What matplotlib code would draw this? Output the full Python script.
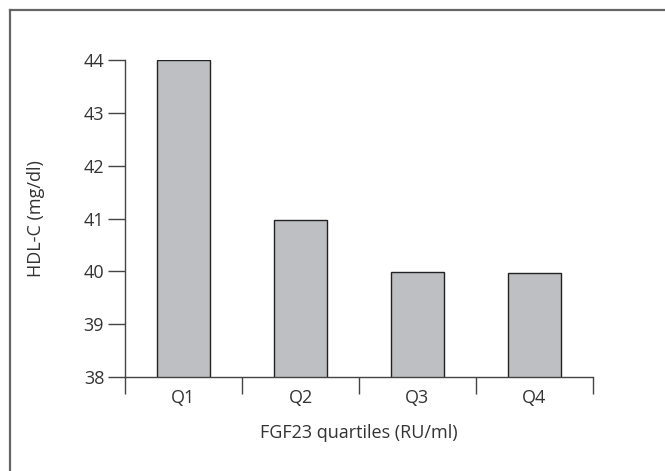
import matplotlib
matplotlib.use("Agg")
import matplotlib.pyplot as plt
from matplotlib.lines import Line2D

categories = ["Q1", "Q2", "Q3", "Q4"]
hdl_values = [44.0, 40.98, 39.98, 39.97]
y_ticks = [38, 39, 40, 41, 42, 43, 44]

plt.rcParams['font.family'] = ['Open Sans', 'DejaVu Sans']
text_color = "#333333"
fs = 13

fig = plt.figure(figsize=(6.65, 4.71), dpi=100)
ax = fig.add_axes([125/665, 1 - 377/471, (593 - 125)/665, (377 - 60)/471])

x = list(range(len(categories)))
ax.bar(x, hdl_values, width=0.445, bottom=0, color="#bebfc3",
       edgecolor="#222222", linewidth=1.0, zorder=2)

ax.set_ylim(38, 44)
ax.set_xlim(-0.5, len(categories) - 0.5)
ax.set_yticks(y_ticks)
ax.set_yticklabels([str(v) for v in y_ticks])

# x ticks at category boundaries, labels at centers
ax.set_xticks([i - 0.5 for i in range(len(categories) + 1)])
ax.set_xticklabels([])
ax.set_xticks(x, minor=True)
ax.set_xticklabels(categories, minor=True)
ax.tick_params(axis="x", which="minor", length=0, pad=9, labelsize=fs, labelcolor=text_color)
ax.tick_params(axis="x", which="major", length=12, width=1, color="#444444", direction="out")
ax.tick_params(axis="y", length=12, width=1, color="#444444", direction="out",
               labelsize=fs, labelcolor=text_color, pad=3)

for s in ["top", "right"]:
    ax.spines[s].set_visible(False)
for s in ["left", "bottom"]:
    ax.spines[s].set_color("#444444")
    ax.spines[s].set_linewidth(1.0)

ax.set_ylabel("HDL-C (mg/dl)", fontsize=fs, color=text_color, labelpad=28)
ax.set_xlabel("FGF23 quartiles (RU/ml)", fontsize=fs, color=text_color, labelpad=12)

# outer frame (top and left edges)
fig.add_artist(Line2D([10/665, 1], [1 - 10/471, 1 - 10/471], transform=fig.transFigure,
                      color="#666666", linewidth=1.6))
fig.add_artist(Line2D([10/665, 10/665], [0, 1 - 10/471], transform=fig.transFigure,
                      color="#666666", linewidth=1.6))

fig.savefig("out.png", dpi=100)
